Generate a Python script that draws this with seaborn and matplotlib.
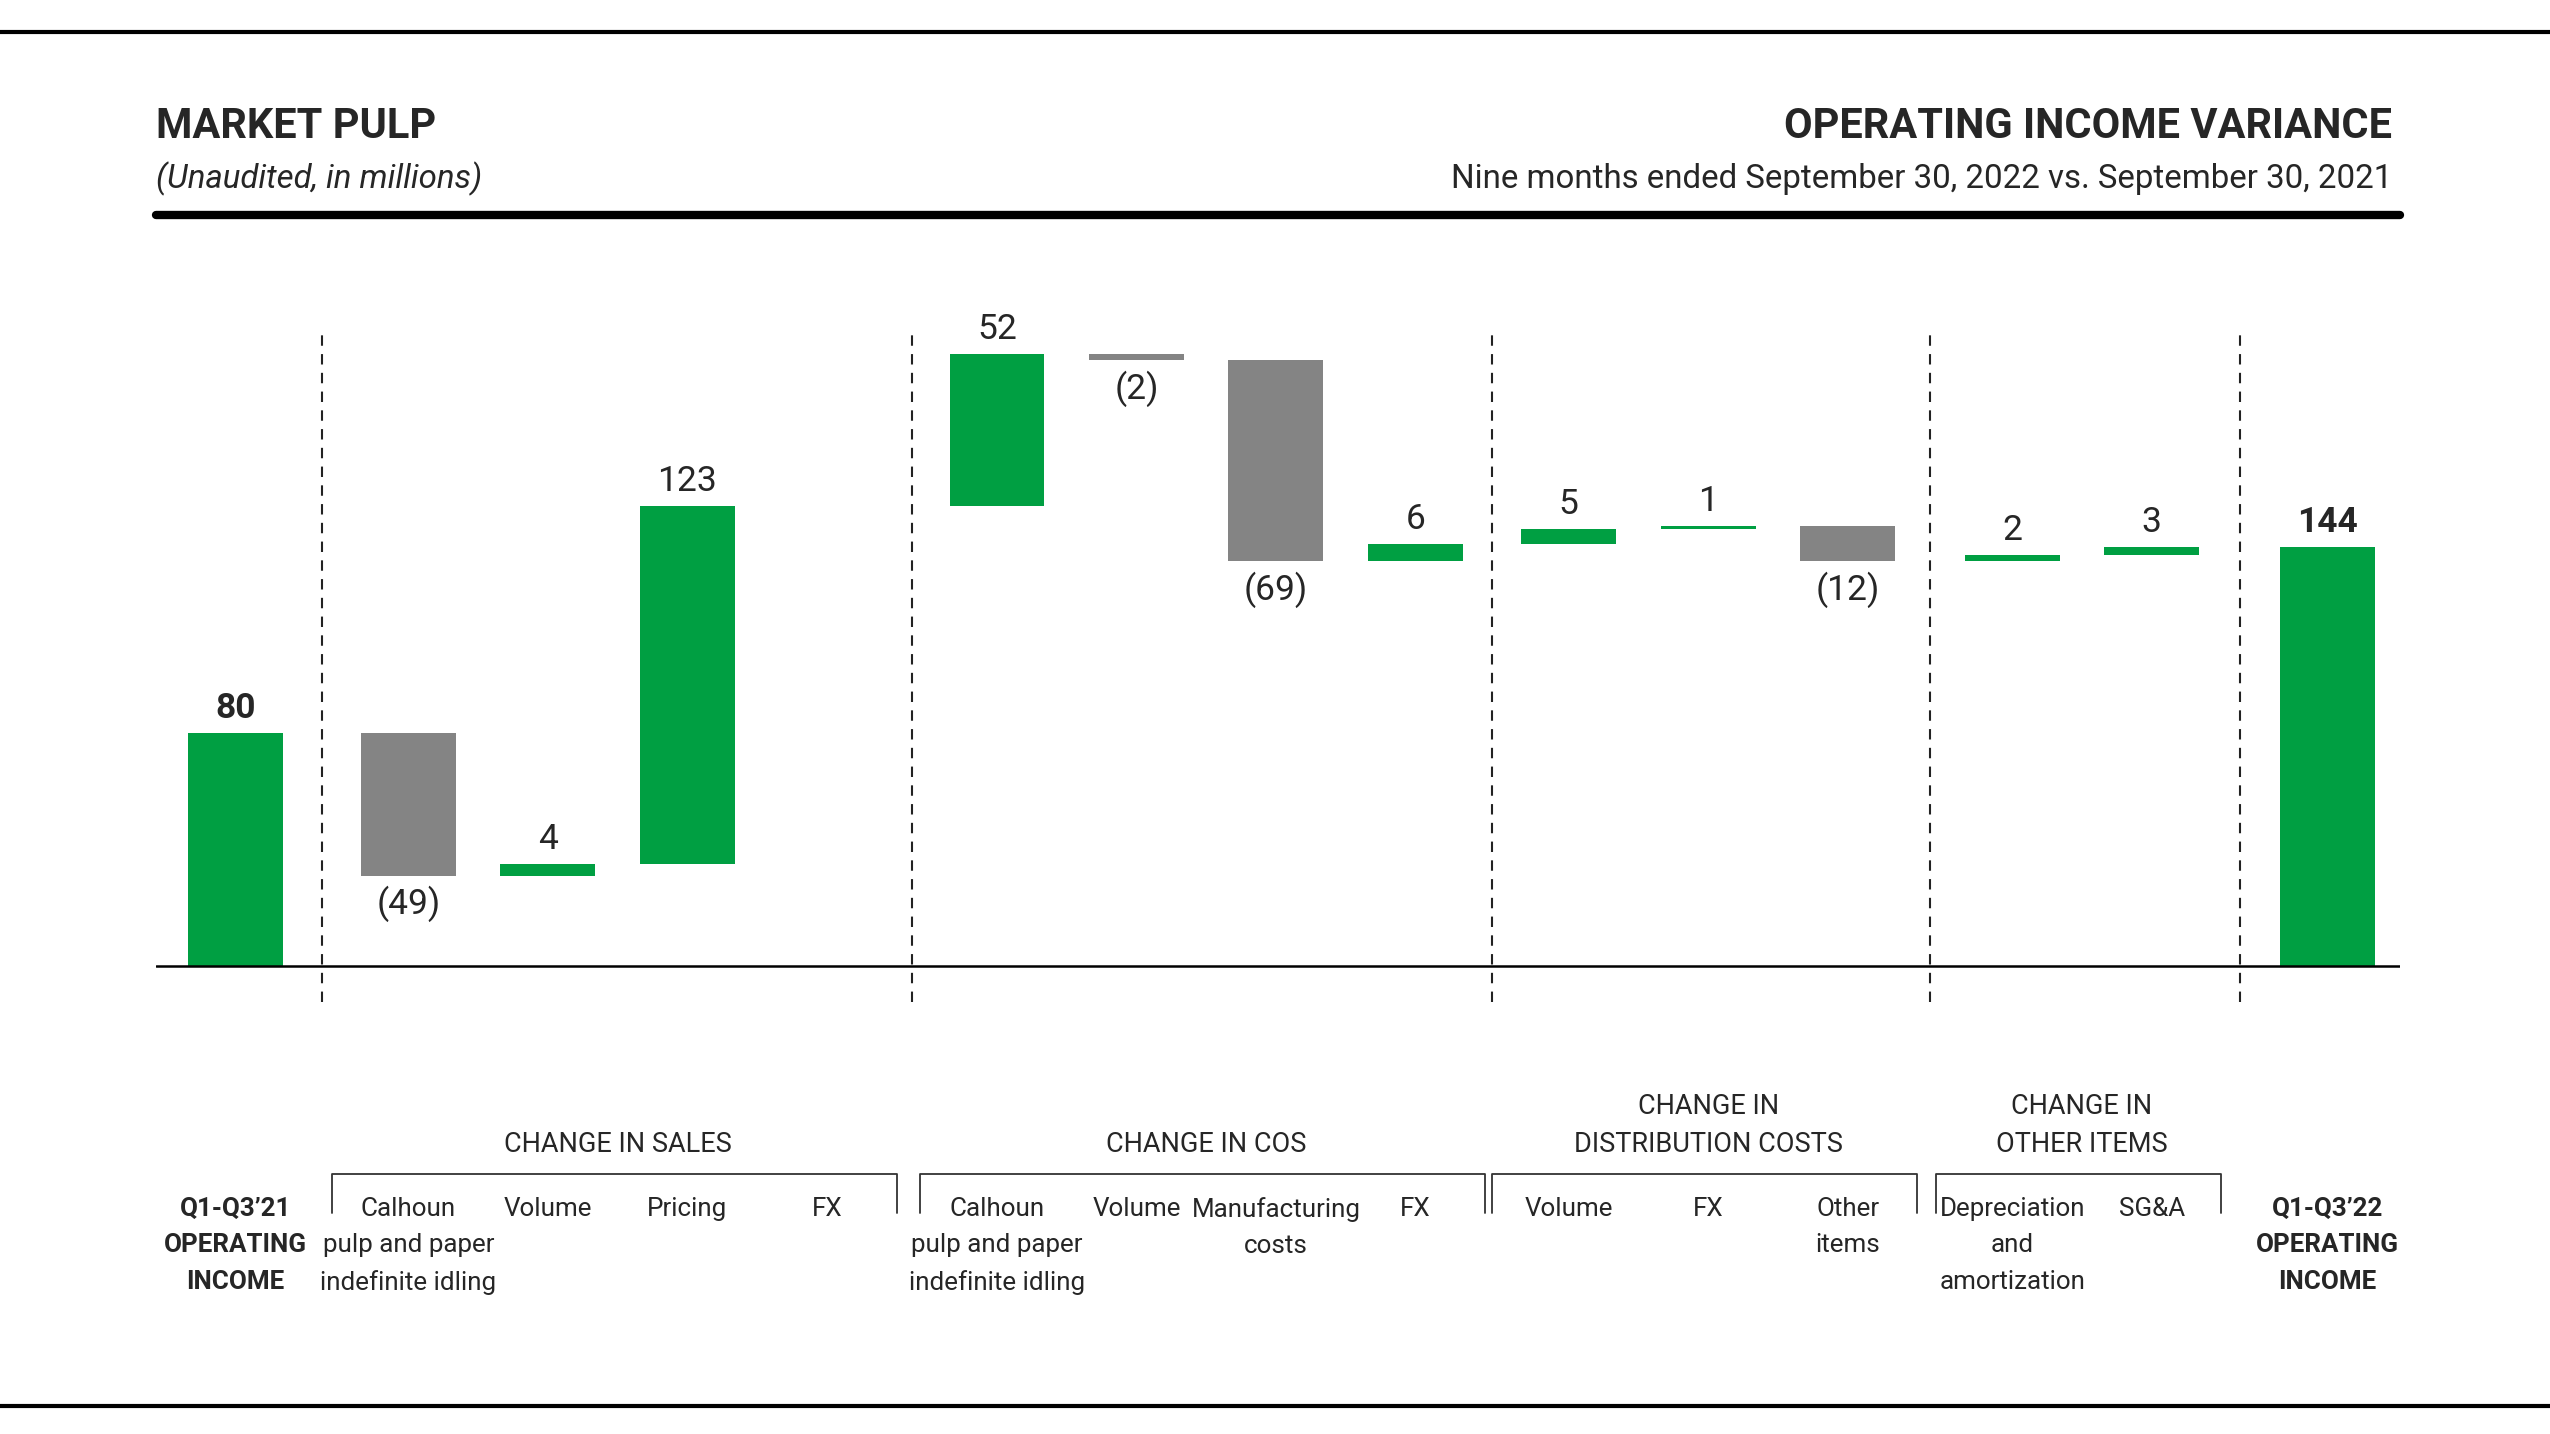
import matplotlib
matplotlib.use("Agg")
import numpy as np
import pandas as pd
import matplotlib.pyplot as plt
import seaborn as sns
from matplotlib import font_manager
from matplotlib.lines import Line2D
from matplotlib.transforms import blended_transform_factory

# values
start_label = "Q1-Q3’21\nOPERATING\nINCOME"
end_label = "Q1-Q3’22\nOPERATING\nINCOME"
start_value = 80
end_value = 144

group_names = ["CHANGE IN SALES", "CHANGE IN COS", "CHANGE IN\nDISTRIBUTION COSTS", "CHANGE IN\nOTHER ITEMS"]
sales_items = ["Calhoun\npulp and paper\nindefinite idling", "Volume", "Pricing", "FX"]
sales_values = [-49, 4, 123, 0]
cos_items = ["Calhoun\npulp and paper\nindefinite idling", "Volume", "Manufacturing\ncosts", "FX"]
cos_values = [52, -2, -69, 6]
dist_items = ["Volume", "FX", "Other\nitems"]
dist_values = [5, 1, -12]
other_items = ["Depreciation\nand\namortization", "SG&A"]
other_values = [2, 3]

GREEN, GRAY = "#009F42", "#848484"
W, H = 2550, 1434
GROUP_GAPS = [1.24, 1.22, 1.1, 1.18, 1.26]  # spacing before each group / final bar

sns.set_style("white")
names = {f.name for f in font_manager.fontManager.ttflist}
NARROW = "Liberation Sans Narrow" in names
FONT = "Liberation Sans Narrow" if NARROW else "Roboto"
plt.rcParams["font.family"] = [FONT, "DejaVu Sans"]
k = 1.0 if NARROW else 0.85
FS_TITLE, FS_SUB, FS_VAL, FS_CAT, FS_GRP = 34 * 0.88, 27 * 0.88, 30 * k, 22 * k, 23 * k


def fy(px):
    return 1 - px / H


# build the waterfall table
rows = []
pos, cum = 0.0, start_value
rows.append(dict(label=start_label, pos=pos, base=0, delta=start_value, kind="total", group=None))
for gap, gname, items, vals in zip(GROUP_GAPS, group_names,
                                   [sales_items, cos_items, dist_items, other_items],
                                   [sales_values, cos_values, dist_values, other_values]):
    for j, (lab, v) in enumerate(zip(items, vals)):
        pos += gap if j == 0 else 1.0
        kind = "none" if v == 0 else ("up" if v > 0 else "down")
        rows.append(dict(label=lab, pos=round(pos, 3), base=cum, delta=v, kind=kind, group=gname))
        cum += v
pos += GROUP_GAPS[-1]
rows.append(dict(label=end_label, pos=round(pos, 3), base=0, delta=end_value, kind="total", group=None))
df = pd.DataFrame(rows)

fig = plt.figure(figsize=(W / 100, H / 100), dpi=100)
ax = fig.add_axes([156 / W, fy(1010), (2400 - 156) / W, (1010 - 300) / H])

for kinds, color in [(["total", "up"], GREEN), (["down"], GRAY)]:
    sub = df[df["kind"].isin(kinds)].sort_values("pos")
    sns.barplot(data=sub, x="pos", y="delta", bottom=sub["base"].to_numpy(), native_scale=True,
                color=color, saturation=1, width=0.68, errorbar=None, linewidth=0, ax=ax)

# value labels
for r in df.itertuples():
    if r.kind == "none":
        continue
    top = r.base + max(r.delta, 0)
    bot = r.base + min(r.delta, 0)
    if r.kind == "down":
        ax.annotate(f"({abs(r.delta)})", (r.pos, bot), xytext=(0, -10), textcoords="offset pixels",
                    ha="center", va="top", fontsize=FS_VAL)
    else:
        ax.annotate(f"{r.delta}", (r.pos, top), xytext=(0, 8), textcoords="offset pixels",
                    ha="center", va="bottom", fontsize=FS_VAL,
                    fontweight="bold" if r.kind == "total" else "normal")

# separators between groups
p = df["pos"].to_numpy()
grp = df["group"].fillna("").to_numpy()
seps = [(p[i] + p[i + 1]) / 2 for i in range(len(p) - 1) if grp[i] != grp[i + 1]]
ax.vlines(seps, -12.4, 219, colors="#222222", linestyles=(0, (5, 4)), lw=1.5)
ax.axhline(0, color="black", lw=1.8)

ax.set_xlim(-0.57, 15.52)
ax.set_ylim(-15.1, 228.7)
ax.axis("off")

# labels below the chart
trans = blended_transform_factory(ax.transData, fig.transFigure)
for r in df.itertuples():
    ax.text(r.pos, fy(1197), r.label, transform=trans, ha="center", va="top", ma="center",
            fontsize=FS_CAT, linespacing=1.65, fontweight="bold" if r.kind == "total" else "normal")
for gname in group_names:
    gp = df.loc[df["group"] == gname, "pos"]
    x0, x1 = gp.min() - 0.55, gp.max() + 0.5
    ax.plot([x0, x0, x1, x1], [fy(1213), fy(1174), fy(1174), fy(1213)], transform=trans,
            clip_on=False, color="#333333", lw=1.3)
    ax.text((gp.min() + gp.max()) / 2, fy(1158), gname, transform=trans, ha="center", va="bottom",
            ma="center", fontsize=FS_GRP, linespacing=1.5)

# header and rules
fig.add_artist(Line2D([0, 1], [fy(32), fy(32)], transform=fig.transFigure, color="black", lw=3))
fig.add_artist(Line2D([0, 1], [fy(1406), fy(1406)], transform=fig.transFigure, color="black", lw=3))
fig.add_artist(Line2D([156 / W, 2400 / W], [fy(215), fy(215)], transform=fig.transFigure, color="black", lw=6))
fig.text(156 / W, fy(138), "MARKET PULP", fontsize=FS_TITLE, fontweight="bold", va="baseline")
fig.text(156 / W, fy(188), "(Unaudited, in millions)", fontsize=FS_SUB, style="italic", va="baseline")
fig.text(2392 / W, fy(138), "OPERATING INCOME VARIANCE", fontsize=FS_TITLE, fontweight="bold",
         va="baseline", ha="right")
fig.text(2392 / W, fy(188), "Nine months ended September 30, 2022 vs. September 30, 2021",
         fontsize=FS_SUB, va="baseline", ha="right")

fig.savefig("out.png", dpi=100, facecolor="white")
